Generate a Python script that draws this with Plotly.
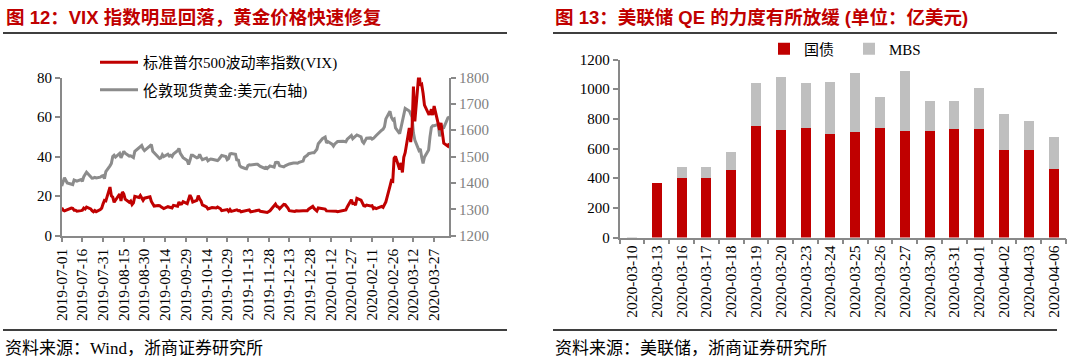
import pandas as pd
import plotly.graph_objects as go

# ---------------- Left chart data (daily, US trading days) ----------------
vix_jul = [14.06, 12.93, 12.57, 13.28, 13.96, 13.84, 12.93, 12.93, 12.39, 12.68, 12.86,
           13.97, 13.53, 14.45, 13.53, 12.61, 12.07, 12.74, 12.16, 13.24, 13.94, 16.12]
vix_aug = [17.87, 17.61, 24.59, 20.17, 19.49, 16.91, 17.97, 21.09, 17.52, 22.10, 21.18,
           18.47, 16.88, 17.50, 15.80, 16.68, 19.87, 19.32, 20.31, 19.35, 17.88, 18.98]
vix_sep = [19.66, 17.33, 15.82, 15.00, 15.27, 15.20, 14.61, 14.22, 13.74, 14.67, 14.44,
           13.95, 14.05, 15.32, 14.91, 17.05, 15.96, 16.07, 17.22, 16.24]
vix_oct = [18.56, 20.56, 19.12, 17.04, 17.86, 20.28, 18.64, 17.57, 15.58, 14.57, 13.54,
           13.68, 13.79, 14.25, 14.00, 14.46, 14.01, 13.71, 12.65, 13.11, 13.20, 12.33, 13.22]
vix_nov = [12.30, 12.83, 13.10, 12.62, 12.73, 12.07, 12.69, 12.68, 13.00, 13.05, 12.05,
           12.46, 12.41, 12.78, 12.98, 12.34, 11.87, 11.54, 11.75, 12.62]
vix_dec = [14.91, 15.96, 14.80, 14.52, 13.62, 15.86, 15.68, 14.99, 13.94, 12.63, 12.14,
           12.29, 12.58, 12.50, 12.51, 12.61, 12.67, 12.65, 13.43, 14.82, 13.78]
vix_jan = [12.47, 14.02, 13.85, 13.79, 13.45, 12.54, 12.56, 12.32, 12.39, 12.42, 12.32,
           12.10, 12.85, 12.91, 12.98, 14.56, 18.23, 16.28, 16.39, 15.49, 18.84]
vix_feb = [17.97, 16.05, 15.15, 14.96, 15.47, 15.04, 15.18, 13.74, 14.15, 13.68, 14.83,
           14.38, 15.56, 17.08, 25.03, 27.85, 27.56, 39.16, 40.11]
vix_mar = [33.42, 36.82, 31.99, 39.62, 41.94, 54.46, 47.30, 53.90, 75.47, 57.83, 82.69,
           75.91, 76.45, 72.00, 66.04, 61.59, 61.67, 63.95, 61.00, 65.54, 57.08, 53.54]
vix_apr = [57.06, 50.91, 46.80, 45.24, 46.70]

gold_jul = [1388, 1403, 1420, 1400, 1397, 1394, 1411, 1410, 1407, 1413, 1406,
            1424, 1435, 1441, 1424, 1418, 1419, 1421, 1419, 1422, 1426, 1428]
gold_aug = [1416, 1443, 1465, 1474, 1500, 1505, 1498, 1512, 1495, 1510, 1520,
            1513, 1502, 1503, 1500, 1496, 1520, 1535, 1540, 1542, 1530, 1523]
gold_sep = [1541, 1546, 1520, 1515, 1500, 1493, 1495, 1507, 1500, 1509, 1502,
            1505, 1500, 1510, 1522, 1531, 1512, 1505, 1496, 1485]
gold_oct = [1470, 1486, 1505, 1505, 1495, 1497, 1509, 1497, 1488, 1494, 1484,
            1488, 1491, 1490, 1485, 1485, 1490, 1500, 1504, 1500, 1488, 1492, 1510]
gold_nov = [1512, 1509, 1485, 1490, 1466, 1461, 1455, 1454, 1466, 1469, 1468,
            1472, 1471, 1471, 1466, 1463, 1456, 1459, 1455, 1465]
gold_dec = [1460, 1477, 1478, 1477, 1465, 1461, 1465, 1468, 1472, 1472, 1476,
            1477, 1476, 1475, 1478, 1483, 1498, 1505, 1511, 1515, 1515]
gold_jan = [1528, 1549, 1568, 1570, 1574, 1552, 1557, 1547, 1540, 1548, 1553,
            1557, 1558, 1556, 1556, 1566, 1580, 1568, 1574, 1580, 1582]
gold_feb = [1575, 1557, 1551, 1564, 1570, 1571, 1566, 1569, 1573, 1580, 1600,
            1604, 1613, 1643, 1672, 1649, 1640, 1643, 1609]
gold_mar = [1587, 1610, 1639, 1653, 1683, 1673, 1660, 1650, 1590, 1563, 1524,
            1529, 1498, 1474, 1498, 1525, 1575, 1611, 1617, 1617, 1622, 1577]
gold_apr = [1592, 1609, 1610, 1647, 1650]

holidays = ["2019-07-04", "2019-09-02", "2019-11-28", "2019-12-25",
            "2020-01-01", "2020-01-20", "2020-02-17"]

left_ticks = ["2019-07-01", "2019-07-16", "2019-07-31", "2019-08-15", "2019-08-30",
              "2019-09-14", "2019-09-29", "2019-10-14", "2019-10-29", "2019-11-13",
              "2019-11-28", "2019-12-13", "2019-12-28", "2020-01-12", "2020-01-27",
              "2020-02-11", "2020-02-26", "2020-03-12", "2020-03-27"]

# ---------------- Right chart data ----------------
qe_dates = ["2020-03-10", "2020-03-13", "2020-03-16", "2020-03-17", "2020-03-18",
            "2020-03-19", "2020-03-20", "2020-03-23", "2020-03-24", "2020-03-25",
            "2020-03-26", "2020-03-27", "2020-03-30", "2020-03-31", "2020-04-01",
            "2020-04-02", "2020-04-03", "2020-04-06"]
treasury = [0, 367, 400, 400, 452, 752, 723, 740, 696, 711, 740, 718, 718, 729, 729, 588, 588, 464]
mbs = [6, 0, 75, 75, 122, 287, 357, 299, 354, 400, 207, 404, 204, 193, 277, 247, 195, 211]

vix = (vix_jul + vix_aug + vix_sep + vix_oct + vix_nov + vix_dec + vix_jan
       + vix_feb + vix_mar + vix_apr)
gold = (gold_jul + gold_aug + gold_sep + gold_oct + gold_nov + gold_dec + gold_jan
        + gold_feb + gold_mar + gold_apr)
dates = pd.bdate_range("2019-07-01", "2020-04-07")
dates = dates[~dates.isin(pd.to_datetime(holidays))]
assert len(dates) == len(vix) == len(gold)

W, H = 1080, 364
def px(x):
    return x / W
def py(y):
    return 1 - y / H

RED = "#C00000"
LGRAY = "#8C8C8C"
AX = "#898989"
RULE = "#3F3F3F"
SERIF = "Liberation Serif, Noto Sans CJK SC, serif"
SANS = "Liberation Sans, Noto Sans CJK SC, sans-serif"

fig = go.Figure()

fig.add_trace(go.Scatter(x=dates, y=gold, mode="lines", name="伦敦现货黄金:美元(右轴)",
                         line=dict(color=LGRAY, width=3), xaxis="x", yaxis="y",
                         legend="legend", legendgroup="g", legendrank=2))
fig.add_trace(go.Scatter(x=dates, y=vix, mode="lines", name="标准普尔500波动率指数(VIX)",
                         line=dict(color=RED, width=3), xaxis="x", yaxis="y3",
                         legend="legend", legendgroup="v", legendrank=1))

fig.add_trace(go.Bar(x=qe_dates, y=treasury, name="国债", marker=dict(color=RED, line=dict(width=0)),
                     xaxis="x2", yaxis="y2", legend="legend2"))
fig.add_trace(go.Bar(x=qe_dates, y=mbs, name="MBS", marker=dict(color="#BFBFBF", line=dict(width=0)),
                     xaxis="x2", yaxis="y2", legend="legend2"))

# decorative rules under the titles and above the source notes,
# drawn on an invisible full-page pixel frame (layout, not data)
rule_x = []
rule_y = []
for x0, x1 in [(3, 507), (553, 1057)]:
    for yy in (33, 330):
        rule_x += [x0, x1, None]
        rule_y += [yy, yy, None]
fig.add_trace(go.Scatter(x=rule_x, y=rule_y, mode="lines", xaxis="x3", yaxis="y4",
                         line=dict(color=RULE, width=1.8), showlegend=False,
                         hoverinfo="skip", cliponaxis=False))

tickfont = dict(family=SERIF, size=15, color="#000000")
axcommon = dict(showline=True, linecolor=AX, linewidth=1.5, ticks="outside",
                ticklen=5, tickcolor=AX, tickwidth=1.5, showgrid=False,
                zeroline=False, automargin=False)

fig.update_layout(
    width=W, height=H, autosize=False,
    margin=dict(l=0, r=0, t=0, b=0, autoexpand=False),
    paper_bgcolor="white", plot_bgcolor="rgba(0,0,0,0)",
    barmode="stack", bargap=0.6,
    xaxis=dict(domain=[px(61.7), px(449.3)], type="date",
               range=["2019-07-01", "2020-04-07"],
               tickvals=left_ticks, ticktext=left_ticks, tickangle=-90,
               tickfont=dict(family=SERIF, size=15.5, color="#000000"), anchor="y",
               **axcommon),
    yaxis=dict(domain=[py(235.7), py(77.5)], range=[1200, 1800], dtick=100, side="right",
               anchor="x", tickfont=dict(family=SERIF, size=15, color="#7F7F7F"),
               **axcommon),
    yaxis3=dict(range=[0, 80], dtick=20, side="left", overlaying="y", anchor="x",
                tickfont=tickfont, **axcommon),
    xaxis2=dict(domain=[px(619.6), px(1066)], type="category", tickangle=-90,
                tickson="boundaries",
                tickfont=dict(family=SERIF, size=15.5, color="#000000"), anchor="y2",
                **axcommon),
    yaxis2=dict(domain=[py(237.5), py(59.5)], range=[0, 1200], dtick=200, anchor="x2",
                tickfont=tickfont, **axcommon),
    xaxis3=dict(domain=[0, 1], range=[0, W], visible=False, fixedrange=True, anchor="y4"),
    yaxis4=dict(domain=[0, 1], range=[H, 0], visible=False, fixedrange=True, anchor="x3"),
    legend=dict(x=px(95), y=py(46), xanchor="left", yanchor="top",
                bgcolor="rgba(0,0,0,0)", font=dict(family=SERIF, size=15, color="#000000"),
                tracegroupgap=5, orientation="v", itemwidth=38),
    legend2=dict(x=px(764), y=py(49), xanchor="left", yanchor="middle",
                 bgcolor="rgba(0,0,0,0)", font=dict(family=SERIF, size=15, color="#000000"),
                 orientation="h", traceorder="normal", entrywidth=40,
                 entrywidthmode="pixels"),
)

# titles
fig.add_annotation(text="<b>图 12：VIX 指数明显回落，黄金价格快速修复</b>", x=px(4), y=py(17),
                   xref="paper", yref="paper", xanchor="left", yanchor="middle",
                   showarrow=False, font=dict(family=SANS, size=18.5, color=RED))
fig.add_annotation(text="<b>图 13：美联储 QE 的力度有所放缓 (单位：亿美元)</b>", x=px(553), y=py(17),
                   xref="paper", yref="paper", xanchor="left", yanchor="middle",
                   showarrow=False, font=dict(family=SANS, size=18.5, color=RED))
# sources
fig.add_annotation(text="资料来源：Wind，浙商证券研究所", x=px(3), y=py(348),
                   xref="paper", yref="paper", xanchor="left", yanchor="middle",
                   showarrow=False, font=dict(family=SERIF, size=17, color="#000000"))
fig.add_annotation(text="资料来源：美联储，浙商证券研究所", x=px(553), y=py(348),
                   xref="paper", yref="paper", xanchor="left", yanchor="middle",
                   showarrow=False, font=dict(family=SERIF, size=17, color="#000000"))

fig.write_html("out.html", config={"displayModeBar": False},
               post_script="document.body.style.margin='0';document.body.style.padding='0';")
